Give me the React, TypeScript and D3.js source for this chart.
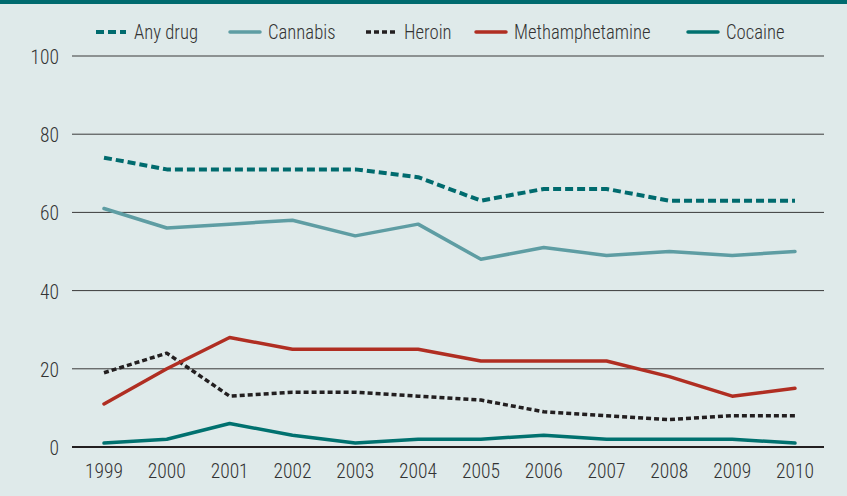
import React from "react";
import * as d3 from "d3";

const years = [1999, 2000, 2001, 2002, 2003, 2004, 2005, 2006, 2007, 2008, 2009, 2010];
const anyDrug = [74, 71, 71, 71, 71, 69, 63, 66, 66, 63, 63, 63];
const cannabis = [61, 56, 57, 58, 54, 57, 48, 51, 49, 50, 49, 50];
const heroin = [19, 24, 13, 14, 14, 13, 12, 9, 8, 7, 8, 8];
const meth = [11, 20, 28, 25, 25, 25, 22, 22, 22, 18, 13, 15];
const cocaine = [1, 2, 6, 3, 1, 2, 2, 3, 2, 2, 2, 1];
const yTicks = [0, 20, 40, 60, 80, 100];

const seriesNames = ["Any drug", "Cannabis", "Heroin", "Methamphetamine", "Cocaine"];
const seriesData = [anyDrug, cannabis, heroin, meth, cocaine];

const styles = [
  { color: "#006b6e", width: 4, dash: "8,4" },
  { color: "#5e9da3", width: 3.5, dash: "" },
  { color: "#231f20", width: 3.5, dash: "5,3" },
  { color: "#b02e22", width: 3.5, dash: "" },
  { color: "#00716f", width: 3.5, dash: "" },
];
const legendX = [96, 230, 366, 476, 688];

const W = 847, H = 496;
const FONT = "'Roboto Condensed', 'Liberation Sans Narrow', 'Liberation Sans', Arial, sans-serif";

function Label({ x, y, anchor, sx = 0.93, children }: { x: number; y: number; anchor: string; sx?: number; children: React.ReactNode }) {
  return (
    <text transform={`translate(${x},${y}) scale(${sx},1)`} textAnchor={anchor} fontFamily={FONT}
      fontWeight={300} fontSize={21} fill="#333333">{children}</text>
  );
}

export default function App() {
  const x = d3.scaleLinear().domain([1999, 2010]).range([104, 795]);
  const y = d3.scaleLinear().domain([0, 100]).range([447, 56]);
  const line = d3.line<number>().x((_, i) => x(years[i])).y((d) => y(d));

  return (
    <svg width={W} height={H} style={{ position: "absolute", left: 0, top: 0 }}>
      <rect x={0} y={0} width={W} height={H} fill="#dfeaea" />
      <rect x={0} y={0} width={W} height={4} fill="#006b6f" />
      {yTicks.map((t) => (
        <g key={t}>
          <line x1={72} x2={824} y1={y(t)} y2={y(t)} stroke={t === 0 ? "#231f20" : "#3a3a3a"} strokeWidth={t === 0 ? 2 : 1} />
          <Label x={59} y={y(t) + 8} anchor="end">{t}</Label>
        </g>
      ))}
      {years.map((yr) => (
        <Label key={yr} x={x(yr)} y={478} anchor="middle">{yr}</Label>
      ))}
      {seriesData.map((d, i) => (
        <path key={i} d={line(d) || ""} fill="none" stroke={styles[i].color} strokeWidth={styles[i].width}
          strokeDasharray={styles[i].dash || undefined} strokeLinejoin="round" strokeLinecap={styles[i].dash ? "butt" : "round"} />
      ))}
      {seriesNames.map((n, i) => (
        <g key={n}>
          <line x1={legendX[i]} x2={legendX[i] + 30} y1={32} y2={32} stroke={styles[i].color} strokeWidth={styles[i].width}
            strokeDasharray={styles[i].dash || undefined} strokeLinecap={styles[i].dash ? "butt" : "round"} />
          <Label x={legendX[i] + 38} y={39} anchor="start" sx={0.89}>{n}</Label>
        </g>
      ))}
    </svg>
  );
}
